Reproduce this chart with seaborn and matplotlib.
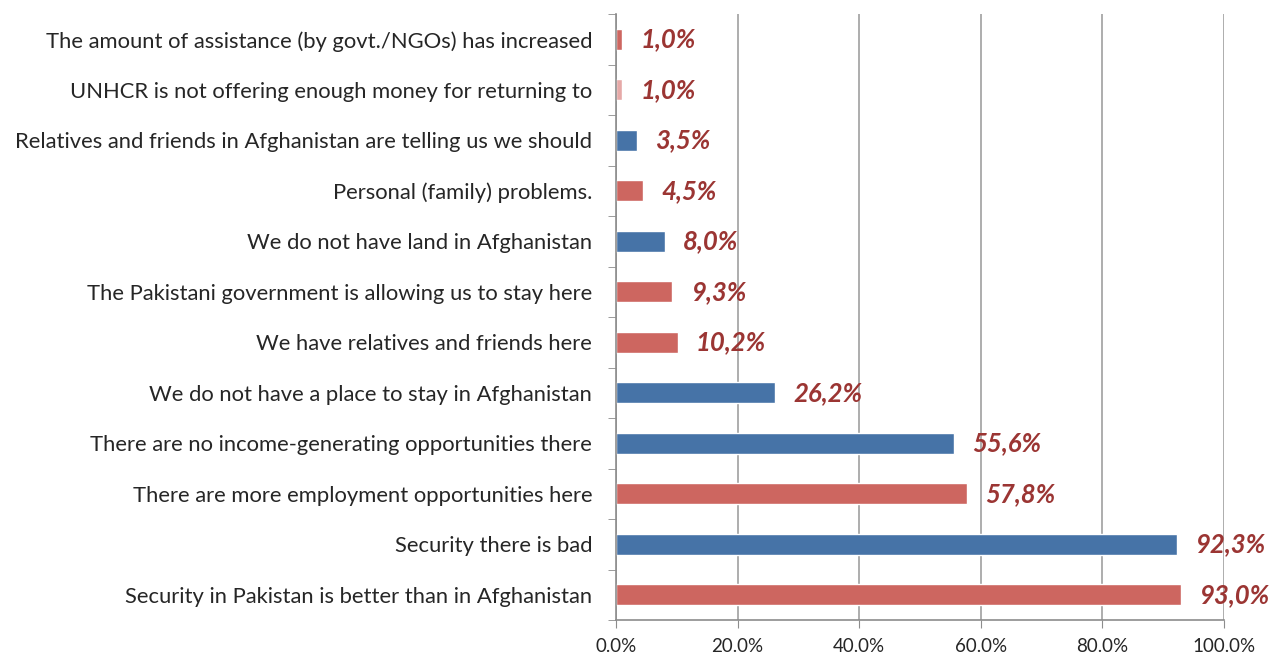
import matplotlib
matplotlib.use("Agg")
import matplotlib.pyplot as plt
import matplotlib.ticker as mticker
import seaborn as sns
import numpy as np

reasons = [
    "The amount of assistance (by govt./NGOs) has increased",
    "UNHCR is not offering enough money for returning to",
    "Relatives and friends in Afghanistan are telling us we should",
    "Personal (family) problems.",
    "We do not have land in Afghanistan",
    "The Pakistani government is allowing us to stay here",
    "We have relatives and friends here",
    "We do not have a place to stay in Afghanistan",
    "There are no income-generating opportunities there",
    "There are more employment opportunities here",
    "Security there is bad",
    "Security in Pakistan is better than in Afghanistan",
]
shares = [1.0, 1.0, 3.5, 4.5, 8.0, 9.3, 10.2, 26.2, 55.6, 57.8, 92.3, 93.0]
value_labels = ["1,0%", "1,0%", "3,5%", "4,5%", "8,0%", "9,3%", "10,2%",
                "26,2%", "55,6%", "57,8%", "92,3%", "93,0%"]

RED, BLUE, PINK = "#CD6660", "#4673A7", "#E6A9A7"
bar_colors = [RED, PINK, BLUE, RED, BLUE, RED, RED, BLUE, BLUE, RED, BLUE, RED]

sns.set_style("white")
plt.rcParams["font.family"] = ["Lato", "DejaVu Sans"]

fig = plt.figure(figsize=(12.7, 6.53), dpi=100)
ax = fig.add_axes([0.485, 0.0505, 0.4787, 0.928])

sns.barplot(x=shares, y=reasons, hue=reasons, palette=bar_colors,
            legend=False, orient="h", width=0.42, saturation=1, ax=ax)

ax.set_xlim(0, 100)
ax.set_ylim(len(reasons) - 0.5, -0.5)
ax.set_xticks(np.arange(0, 101, 20))
ax.xaxis.set_major_formatter(mticker.FuncFormatter(lambda v, p: f"{v:.1f}%"))
ax.grid(axis="x", color="#A0A0A0", linewidth=1.2)
ax.set_axisbelow(True)
ax.set_xlabel("")
ax.set_ylabel("")

for s in ["top", "right"]:
    ax.spines[s].set_visible(False)
for s in ["left", "bottom"]:
    ax.spines[s].set_color("#8C8C8C")
    ax.spines[s].set_linewidth(1.2)

ax.tick_params(axis="x", which="major", direction="out", length=6,
               color="#8C8C8C", labelsize=13.5, pad=7, bottom=True)
ax.tick_params(axis="y", which="major", length=0, labelsize=15.8, pad=17)
ax.set_yticks(np.arange(-0.5, len(reasons), 1), minor=True)
ax.tick_params(axis="y", which="minor", direction="out", length=6,
               color="#8C8C8C", left=True)

for i, (v, lab) in enumerate(zip(shares, value_labels)):
    ax.annotate(lab, xy=(v, i), xytext=(13, 0), textcoords="offset points",
                va="center", ha="left", fontsize=18.5, fontweight="bold",
                fontstyle="italic", color="#9B3533")

fig.savefig("out.png", dpi=100)
